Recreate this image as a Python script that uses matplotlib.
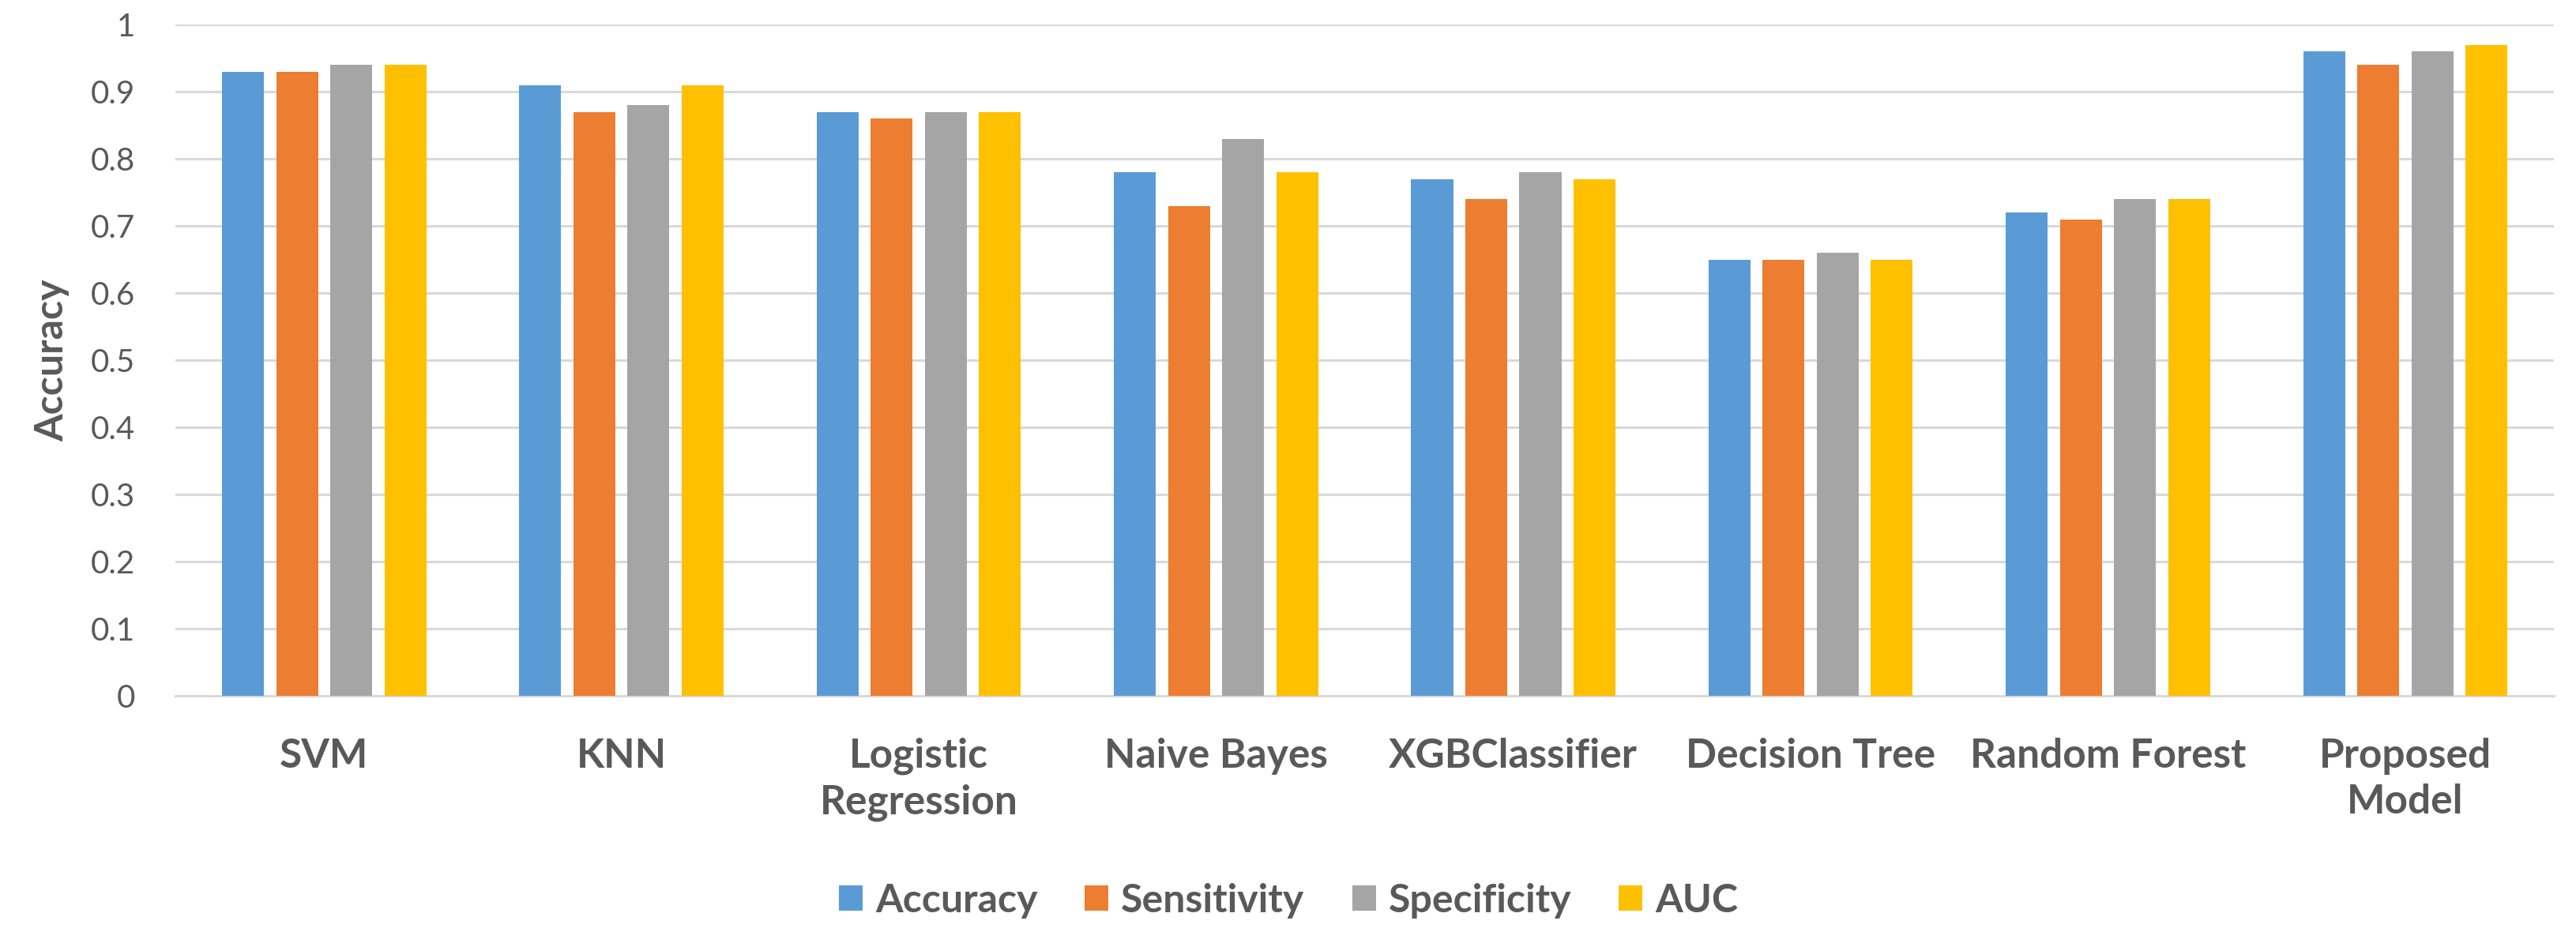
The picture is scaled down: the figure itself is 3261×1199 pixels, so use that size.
import matplotlib
matplotlib.use("Agg")
import matplotlib.pyplot as plt
import numpy as np

categories = ["SVM", "KNN", "Logistic\nRegression", "Naive Bayes", "XGBClassifier",
              "Decision Tree", "Random Forest", "Proposed\nModel"]
series_names = ["Accuracy", "Sensitivity", "Specificity", "AUC"]
accuracy = [0.93, 0.91, 0.87, 0.78, 0.77, 0.65, 0.72, 0.96]
sensitivity = [0.93, 0.87, 0.86, 0.73, 0.74, 0.65, 0.71, 0.94]
specificity = [0.94, 0.88, 0.87, 0.83, 0.78, 0.66, 0.74, 0.96]
auc = [0.94, 0.91, 0.87, 0.78, 0.77, 0.65, 0.74, 0.97]
yticks = [0, 0.1, 0.2, 0.3, 0.4, 0.5, 0.6, 0.7, 0.8, 0.9, 1]
ytick_labels = ["0", "0.1", "0.2", "0.3", "0.4", "0.5", "0.6", "0.7", "0.8", "0.9", "1"]

colors = ["#5B9BD5", "#ED7D31", "#A5A5A5", "#FFC000"]
text_color = "#595959"

plt.rcParams['font.family'] = ['Lato', 'DejaVu Sans']

fig = plt.figure(figsize=(32.62, 11.99), dpi=100)
ax = fig.add_axes([0.0681, 0.2652, 0.9230, 0.7089])

x = np.arange(len(categories))
step = 0.182
width = 0.141
all_series = [accuracy, sensitivity, specificity, auc]
for i, (vals, name) in enumerate(zip(all_series, series_names)):
    ax.bar(x + (i - 1.5) * step, vals, width=width, color=colors[i], label=name, zorder=3)

ax.set_xlim(-0.5, len(categories) - 0.5)
ax.set_ylim(0, 1)
ax.set_yticks(yticks)
ax.set_yticklabels(ytick_labels)
ax.set_xticks(x)
ax.set_xticklabels(categories, fontweight='bold', linespacing=1.3)
ax.tick_params(axis='y', length=0, pad=37, labelsize=29, labelcolor=text_color)
ax.tick_params(axis='x', length=0, pad=38, labelsize=37, labelcolor=text_color)
ax.yaxis.grid(True, color="#D9D9D9", linewidth=2.2, zorder=0)
ax.set_axisbelow(True)
for s in ["top", "right", "left"]:
    ax.spines[s].set_visible(False)
ax.spines["bottom"].set_color("#D9D9D9")
ax.spines["bottom"].set_linewidth(2.2)

ax.set_ylabel("Accuracy", fontsize=36, fontweight='bold', color=text_color)
ax.yaxis.set_label_coords(-0.0445, 0.5)

leg = fig.legend(loc="center", bbox_to_anchor=(0.5, 0.049), ncol=4, frameon=False,
                 handlelength=0.6, handleheight=0.6, handletextpad=0.32,
                 columnspacing=1.2, prop={'weight': 'bold', 'size': 36})
for t in leg.get_texts():
    t.set_color(text_color)

fig.savefig("out.png", dpi=100, facecolor="white")
